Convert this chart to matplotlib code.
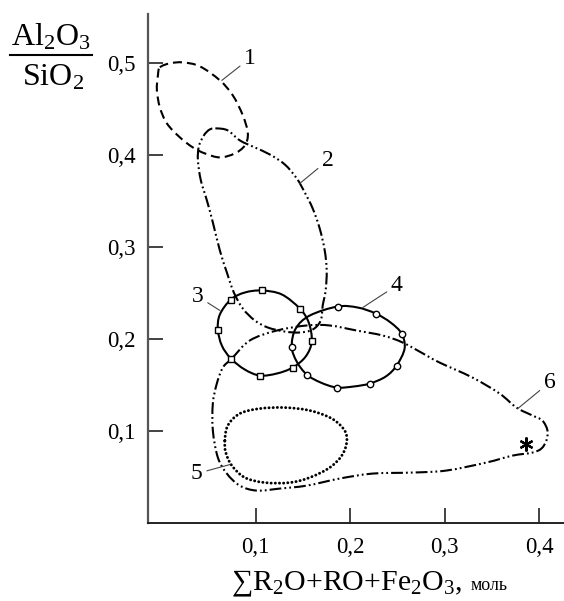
import matplotlib
matplotlib.use("Agg")
import matplotlib.pyplot as plt
import numpy as np
from matplotlib.path import Path
from matplotlib.patches import PathPatch
from matplotlib.lines import Line2D

plt.rcParams["font.family"] = ["Liberation Serif", "DejaVu Serif"]
plt.rcParams["mathtext.fontset"] = "custom"
plt.rcParams["mathtext.rm"] = "Liberation Serif"
plt.rcParams["mathtext.it"] = "Liberation Serif:italic"
plt.rcParams["lines.scale_dashes"] = False

# ---- contour outlines of the composition fields (x = sum of fluxes, y = Al2O3/SiO2) ----
field1_x = [-0.0014, 0.0092, 0.0229, 0.0409, 0.0620, 0.0757, 0.0863, 0.0916, 0.0884,
            0.0778, 0.0620, 0.0462, 0.0335, 0.0198, 0.0060, -0.0014, -0.0046, -0.0035]
field1_y = [0.4950, 0.4994, 0.5004, 0.4961, 0.4809, 0.4646, 0.4428, 0.4233, 0.4102,
            0.4015, 0.3972, 0.4015, 0.4080, 0.4189, 0.4341, 0.4515, 0.4700, 0.4863]

field2_x = [0.0588, 0.0704, 0.0831, 0.0990, 0.1148, 0.1306, 0.1433, 0.1518, 0.1602,
            0.1676, 0.1729, 0.1750, 0.1739, 0.1708, 0.1687, 0.1602, 0.1465, 0.1306,
            0.1127, 0.0990, 0.0863, 0.0768, 0.0694, 0.0620, 0.0546, 0.0483, 0.0419,
            0.0388, 0.0398, 0.0451, 0.0514]
field2_y = [0.4287, 0.4265, 0.4157, 0.4080, 0.4004, 0.3896, 0.3744, 0.3591, 0.3417,
            0.3200, 0.2961, 0.2744, 0.2526, 0.2363, 0.2200, 0.2102, 0.2070, 0.2080,
            0.2124, 0.2200, 0.2330, 0.2504, 0.2722, 0.2961, 0.3265, 0.3504, 0.3722,
            0.3939, 0.4091, 0.4211, 0.4276]

field3_x = [0.0599, 0.0620, 0.0736, 0.0884, 0.1064, 0.1275, 0.1465, 0.1560, 0.1592,
            0.1528, 0.1391, 0.1222, 0.1043, 0.0884, 0.0736, 0.0641]
field3_y = [0.2102, 0.2265, 0.2428, 0.2504, 0.2526, 0.2483, 0.2330, 0.2178, 0.1972,
            0.1809, 0.1689, 0.1624, 0.1602, 0.1667, 0.1787, 0.1928]
field3_samples = [0, 2, 4, 6, 8, 10, 12, 14]

field4_x = [0.1380, 0.1423, 0.1571, 0.1866, 0.2078, 0.2268, 0.2426, 0.2542, 0.2574,
            0.2490, 0.2374, 0.2205, 0.2035, 0.1856, 0.1687, 0.1539, 0.1433]
field4_y = [0.1917, 0.2113, 0.2254, 0.2352, 0.2341, 0.2276, 0.2178, 0.2058, 0.1896,
            0.1711, 0.1591, 0.1515, 0.1483, 0.1472, 0.1526, 0.1613, 0.1754]
field4_samples = [0, 3, 5, 7, 9, 11, 13, 15]

field5_x = [0.0673, 0.0704, 0.0831, 0.1043, 0.1306, 0.1571, 0.1803, 0.1940, 0.1961,
            0.1909, 0.1782, 0.1571, 0.1359, 0.1096, 0.0884, 0.0747, 0.0683]
field5_y = [0.0896, 0.1059, 0.1189, 0.1243, 0.1254, 0.1222, 0.1135, 0.1005, 0.0874,
            0.0732, 0.0602, 0.0494, 0.0439, 0.0439, 0.0494, 0.0624, 0.0765]

field6_x = [0.0747, 0.0937, 0.1222, 0.1539, 0.1782, 0.2067, 0.2342, 0.2553, 0.2806,
            0.2944, 0.3292, 0.3578, 0.3757, 0.3926, 0.4031, 0.4085, 0.4074, 0.4021,
            0.3926, 0.3715, 0.3440, 0.3017, 0.2658, 0.2237, 0.1888, 0.1539, 0.1254,
            0.1011, 0.0831, 0.0694, 0.0599, 0.0546, 0.0546, 0.0588, 0.0652]
field6_y = [0.1787, 0.1983, 0.2091, 0.2146, 0.2146, 0.2091, 0.2037, 0.1961, 0.1820,
            0.1743, 0.1580, 0.1407, 0.1254, 0.1168, 0.1113, 0.1005, 0.0896, 0.0809,
            0.0765, 0.0732, 0.0657, 0.0570, 0.0548, 0.0537, 0.0483, 0.0406, 0.0374,
            0.0352, 0.0406, 0.0537, 0.0711, 0.1005, 0.1298, 0.1515, 0.1689]

star_x = [0.3863]
star_y = [0.0863]

x_ticks = [0.1, 0.2, 0.3, 0.4]
x_tick_labels = ["0,1", "0,2", "0,3", "0,4"]
y_ticks = [0.1, 0.2, 0.3, 0.4, 0.5]
y_tick_labels = ["0,1", "0,2", "0,3", "0,4", "0,5"]

# field number labels: (text, text position, point on outline)
field_labels = [
    ("1", (0.0937, 0.5048), (0.0641, 0.4809)),
    ("2", (0.1761, 0.3939), (0.1465, 0.3689)),
    ("3", (0.0388, 0.2461), (0.0620, 0.2309)),
    ("4", (0.2490, 0.2581), (0.2131, 0.2341)),
    ("5", (0.0377, 0.0537), (0.0726, 0.0635)),
    ("6", (0.4106, 0.1526), (0.3771, 0.1243)),
]


def closed_smooth_path(xs, ys, k=1.0 / 6.0):
    """Closed Catmull-Rom outline through the given points, as cubic Bezier segments."""
    p = np.column_stack([xs, ys])
    n = len(p)
    verts = [p[0]]
    codes = [Path.MOVETO]
    for i in range(n):
        p0, p1, p2, p3 = p[i - 1], p[i], p[(i + 1) % n], p[(i + 2) % n]
        verts += [p1 + (p2 - p0) * k, p2 - (p3 - p1) * k, p2]
        codes += [Path.CURVE4] * 3
    return Path(verts, codes)


fig = plt.figure(figsize=(5.64, 6.01), dpi=100)
ax = fig.add_axes([148 / 564, 1 - 523 / 601, 416 / 564, 509 / 601])
ax.set_xlim(-0.014, 0.426)
ax.set_ylim(0.0, 0.553)

dash = (0, (6.5, 3.6))
dash_dot_dot = (0, (8.5, 2.2, 1.3, 2.2, 1.3, 2.2))

styles = [
    (field1_x, field1_y, dash),
    (field2_x, field2_y, dash_dot_dot),
    (field3_x, field3_y, "solid"),
    (field4_x, field4_y, "solid"),
    (field6_x, field6_y, dash_dot_dot),
]
for xs, ys, ls in styles:
    ax.add_patch(PathPatch(closed_smooth_path(xs, ys), fill=False, ec="black",
                           lw=1.5, linestyle=ls, joinstyle="round", capstyle="butt"))

ax.add_patch(PathPatch(closed_smooth_path(field5_x, field5_y), fill=False, ec="black",
                       lw=2.1, linestyle=(0, (0.1, 2.9)), capstyle="round"))

ax.plot([field3_x[i] for i in field3_samples], [field3_y[i] for i in field3_samples],
        ls="none", marker="s", ms=4.2, mfc="white", mec="black", mew=1.0, zorder=5)
ax.plot([field4_x[i] for i in field4_samples], [field4_y[i] for i in field4_samples],
        ls="none", marker="o", ms=4.6, mfc="white", mec="black", mew=1.0, zorder=5)

ax.plot(star_x, star_y, ls="none", marker=(6, 2, 0), ms=10, mec="black", mew=1.6, zorder=5)

for txt, tpos, apos in field_labels:
    ax.annotate(txt, xy=apos, xytext=tpos, ha="center", va="center", fontsize=17,
                arrowprops=dict(arrowstyle="-", lw=0.8, color="#444444",
                                shrinkA=1, shrinkB=0))

for side in ("top", "right"):
    ax.spines[side].set_visible(False)
ax.spines["left"].set_color("#555555")
ax.spines["left"].set_linewidth(1.6)
ax.spines["bottom"].set_color("#222222")
ax.spines["bottom"].set_linewidth(1.4)

ax.set_xticks(x_ticks)
ax.set_xticklabels(x_tick_labels)
ax.set_yticks(y_ticks)
ax.set_yticklabels(y_tick_labels)
ax.tick_params(direction="in", length=11, width=1.2, color="#222222", labelsize=16.5)
ax.tick_params(axis="y", pad=9)
ax.tick_params(axis="x", pad=10)

# y-axis quantity written as a fraction
fig.text(51 / 564, 1 - 45 / 601, r"Al$_2$O$_3$", ha="center", va="baseline", fontsize=23)
fig.text(53 / 564, 1 - 86 / 601, r"SiO$_2$", ha="center", va="baseline", fontsize=23)
fig.add_artist(Line2D([10 / 564, 92 / 564], [1 - 55 / 601, 1 - 55 / 601],
                      color="black", lw=1.5, transform=fig.transFigure))

# x-axis quantity
main = fig.text(231 / 564, 1 - 590 / 601, "\u2211R$_2$O+RO+Fe$_2$O$_3$,",
                ha="left", va="baseline", fontsize=21.5)
fig.canvas.draw()
bb = main.get_window_extent()
fig.text((bb.x1 + 8) / 564, 1 - 590 / 601, "моль", ha="left", va="baseline", fontsize=13)

fig.savefig("out.png", dpi=100)
